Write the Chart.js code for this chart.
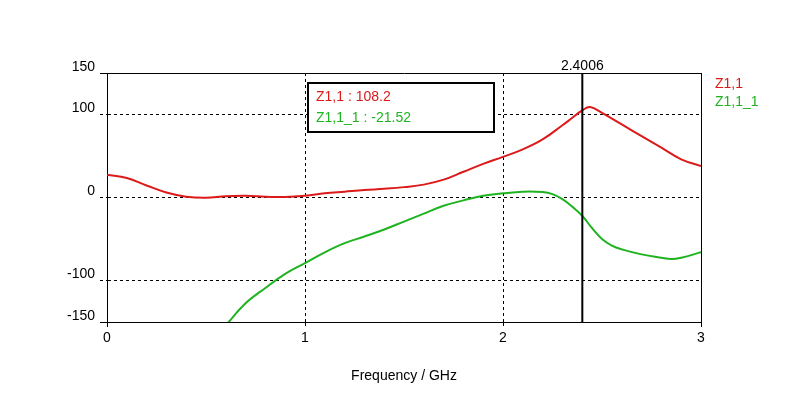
<!DOCTYPE html>
<html>
<head>
<meta charset="utf-8">
<script src="https://cdn.jsdelivr.net/npm/chart.js@4"></script>
<style>html,body{margin:0;padding:0;background:#fff}canvas{display:block}</style>
</head>
<body>
<canvas id="chart" width="796" height="395"></canvas>
<script>
const seriesNames = ['Z1,1', 'Z1,1_1'];
const seriesColors = ['#dc1a1a', '#1fb31f'];
const redFreq = [0, 0.1, 0.2, 0.3, 0.4, 0.5, 0.6, 0.7, 0.8, 0.9, 1.0, 1.1, 1.2, 1.3, 1.4, 1.5, 1.6, 1.7, 1.8, 1.9, 2.0, 2.1, 2.2, 2.3, 2.35, 2.4, 2.44, 2.5, 2.6, 2.7, 2.8, 2.9, 3.0];
const redVals = [27.5, 23.5, 14.5, 6, 1, -0.3, 1.5, 2, 1, 0.5, 2, 5, 7, 9, 10.5, 12.5, 15.5, 21.5, 31, 40.5, 49, 58, 70, 87, 96, 105, 109, 102, 88, 74, 60, 46, 38];
const greenFreq = [0.6, 0.7, 0.8, 0.9, 1.0, 1.1, 1.2, 1.3, 1.4, 1.5, 1.6, 1.7, 1.8, 1.9, 2.0, 2.1, 2.2, 2.25, 2.3, 2.35, 2.4, 2.45, 2.5, 2.55, 2.6, 2.7, 2.8, 2.85, 2.9, 3.0];
const greenVals = [-154, -127.5, -109, -92, -79, -66, -55, -47, -38.5, -29, -19.5, -10, -3.5, 2, 5, 7, 6.5, 4, -2, -11, -22, -37, -50, -58, -62.5, -68.5, -72.5, -74, -72.5, -66];
const yTicks = [150, 100, 0, -100, -150];
const xTicks = [0, 1, 2, 3];
const markerFreq = 2.4006;
const markerVals = [108.2, -21.52];

Chart.defaults.font.family = '"Liberation Sans", Arial, sans-serif';
Chart.defaults.font.size = 14;
Chart.defaults.color = '#000';

const toPts = (xs, ys) => xs.map((x, i) => ({ x, y: ys[i] }));

const markerPlugin = {
  id: 'marker',
  afterDatasetsDraw(chart) {
    const { ctx, chartArea: a, scales: { x } } = chart;
    const mx = x.getPixelForValue(markerFreq);
    ctx.save();
    ctx.strokeStyle = '#000';
    ctx.lineWidth = 2;
    ctx.beginPath();
    ctx.moveTo(mx, a.top);
    ctx.lineTo(mx, a.bottom);
    ctx.stroke();
    ctx.font = '14px "Liberation Sans", Arial, sans-serif';
    ctx.fillStyle = '#000';
    ctx.textAlign = 'center';
    ctx.textBaseline = 'alphabetic';
    ctx.fillText(String(markerFreq), mx, a.top - 3);

    // readout box
    const bx = x.getPixelForValue(1) + 3;
    ctx.fillStyle = '#fff';
    ctx.fillRect(bx, a.top + 10, 186, 49);
    ctx.lineWidth = 2;
    ctx.strokeRect(bx, a.top + 10, 186, 49);
    ctx.textAlign = 'left';
    markerVals.forEach((v, i) => {
      ctx.fillStyle = seriesColors[i];
      ctx.fillText(seriesNames[i] + ' : ' + v, bx + 8, a.top + 28 + i * 21);
    });

    // legend
    seriesNames.forEach((n, i) => {
      ctx.fillStyle = seriesColors[i];
      ctx.fillText(n, a.right + 14, a.top + 15 + i * 18);
    });
    ctx.restore();
  }
};

const solidAt = (vals) => (c) => (c.tick && vals.includes(c.tick.value)) ? [] : [3, 3];

new Chart(document.getElementById('chart'), {
  type: 'line',
  data: {
    datasets: [
      { label: seriesNames[0], data: toPts(redFreq, redVals), borderColor: seriesColors[0], borderWidth: 2, pointRadius: 0, tension: 0.4 },
      { label: seriesNames[1], data: toPts(greenFreq, greenVals), borderColor: seriesColors[1], borderWidth: 2, pointRadius: 0, tension: 0.4 }
    ]
  },
  options: {
    responsive: false,
    animation: false,
    layout: { padding: { top: 73, right: 95, left: 0, bottom: 0 } },
    plugins: { legend: { display: false }, tooltip: { enabled: false } },
    scales: {
      x: {
        type: 'linear', min: 0, max: 3,
        afterBuildTicks: s => { s.ticks = xTicks.map(v => ({ value: v })); },
        afterFit: s => { s.height = 73; },
        ticks: { padding: 3, maxRotation: 0 },
        grid: { color: '#000', tickLength: 5, tickColor: '#000', tickBorderDash: solidAt([0, 3]) },
        border: { color: '#000', dash: solidAt([0, 3]) },
        title: { display: true, text: 'Frequency / GHz', padding: { top: 0, bottom: 10 } }
      },
      y: {
        min: -150, max: 150,
        afterBuildTicks: s => { s.ticks = yTicks.map(v => ({ value: v })); },
        afterFit: s => { s.width = 107; },
        ticks: { padding: 5, labelOffset: -6 },
        grid: { color: '#000', tickLength: 7, tickColor: '#000', tickBorderDash: solidAt([150, -150]) },
        border: { color: '#000', dash: solidAt([150, -150]) }
      }
    }
  },
  plugins: [markerPlugin]
});
</script>
</body>
</html>
